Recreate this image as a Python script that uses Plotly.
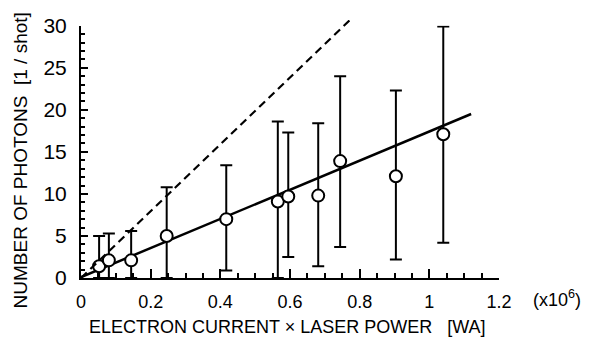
import plotly.graph_objects as go

# data
x_vals = [0.052, 0.080, 0.144, 0.246, 0.417, 0.565, 0.595, 0.681, 0.744, 0.904, 1.040]
y_vals = [1.4, 2.1, 2.1, 5.0, 7.0, 9.1, 9.7, 9.8, 13.9, 12.1, 17.1]
y_hi = [5.0, 5.3, 5.6, 10.8, 13.4, 18.6, 17.3, 18.4, 24.0, 22.3, 29.9]
y_lo = [0.0, 0.0, 0.0, 0.0, 0.9, 0.0, 2.5, 1.4, 3.7, 2.2, 4.2]
fit_x = [0.0, 1.12]
fit_y = [0.1, 19.5]
dash_x = [0.0, 0.78]
dash_y = [0.0, 31.0]
x_ticks = [0, 0.2, 0.4, 0.6, 0.8, 1.0, 1.2]
x_ticklabels = ["0", "0.2", "0.4", "0.6", "0.8", "1", "1.2"]
y_ticks = [0, 5, 10, 15, 20, 25, 30]

# page body has an 8px margin; figure coordinates are screen - 8
OFF = 8
W, H = 600, 343
L = 81 - OFF
R = W - (499 - OFF)
T = 0
B = H - (278 - OFF)
plot_w = W - L - R
plot_h = H - T - B
main_top = (278 - 14) / plot_h  # fraction of plot area for y in [0,30]

FONT = "Liberation Sans"


def px_x(sx):
    return (sx - OFF - L) / plot_w


def px_y(sy):
    return ((H - B) - (sy - OFF)) / plot_h


fig = go.Figure()

fig.add_trace(go.Scatter(
    x=dash_x, y=dash_y, mode="lines",
    line=dict(color="black", width=2.2, dash="8px,5px"),
    xaxis="x2", yaxis="y2", showlegend=False, hoverinfo="skip"))

fig.add_trace(go.Scatter(
    x=fit_x, y=fit_y, mode="lines",
    line=dict(color="black", width=2.5), showlegend=False))

fig.add_trace(go.Scatter(
    x=x_vals, y=y_vals, mode="markers",
    marker=dict(symbol="circle", size=12, color="white",
                line=dict(color="black", width=2)),
    error_y=dict(type="data", symmetric=False,
                 array=[h - v for h, v in zip(y_hi, y_vals)],
                 arrayminus=[v - l for v, l in zip(y_vals, y_lo)],
                 color="black", thickness=2, width=6),
    showlegend=False))

axis_common = dict(showgrid=False, zeroline=False, showline=True,
                   linecolor="black", linewidth=2, ticks="inside",
                   tickcolor="black", tickwidth=2, ticklabeloverflow="allow")

fig.update_layout(
    width=W, height=H,
    margin=dict(l=L, r=R, t=T, b=B),
    paper_bgcolor="white", plot_bgcolor="rgba(0,0,0,0)",
    xaxis=dict(range=[0, 1.2], tickvals=x_ticks, ticktext=x_ticklabels,
               ticklen=9, minor=dict(dtick=0.05, ticklen=5, tickwidth=2,
                                     tickcolor="black", ticks="inside"),
               ticklabelstandoff=6,
               tickfont=dict(family=FONT, size=18, color="black"),
               **axis_common),
    yaxis=dict(range=[0, 30], domain=[0, main_top], tickvals=y_ticks,
               ticklen=7, minor=dict(dtick=1, ticklen=4, tickwidth=2,
                                     tickcolor="black", ticks="inside"),
               ticklabelstandoff=8,
               tickfont=dict(family=FONT, size=21, color="black"),
               **axis_common),
    xaxis2=dict(range=[0, 1.2], anchor="y2", visible=False, domain=[0, 1]),
    yaxis2=dict(range=[0, 30 / main_top], domain=[0, 1], anchor="x2",
                visible=False),
    annotations=[
        dict(text="NUMBER OF PHOTONS  [1 / shot]", xref="paper", yref="paper",
             x=px_x(20), y=px_y(155), textangle=-90,
             showarrow=False, xanchor="center", yanchor="middle",
             font=dict(family=FONT, size=19, color="black")),
        dict(text="ELECTRON CURRENT \u00d7 LASER POWER   [WA]", xref="paper",
             yref="paper", x=px_x(287), y=px_y(329),
             showarrow=False, xanchor="center", yanchor="middle",
             font=dict(family=FONT, size=18, color="black")),
        dict(text="(x10<sup>6</sup>)", xref="paper", yref="paper",
             x=px_x(557), y=px_y(299),
             showarrow=False, xanchor="center", yanchor="middle",
             font=dict(family=FONT, size=18, color="black")),
    ],
)

fig.write_html("out.html")
